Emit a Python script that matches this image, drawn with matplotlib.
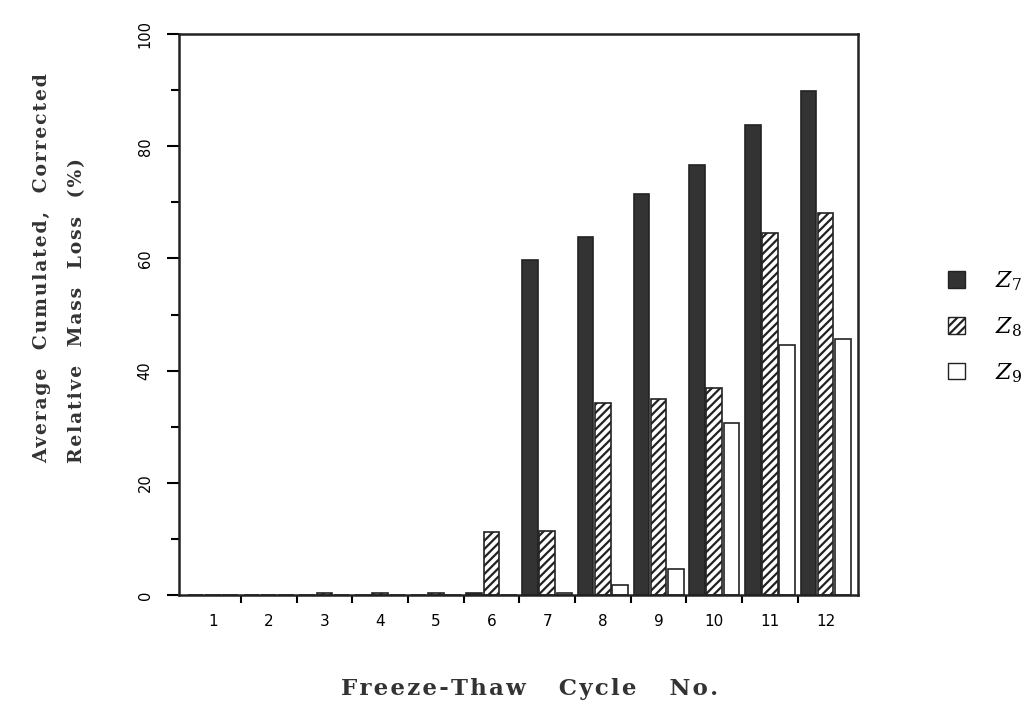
import matplotlib.pyplot as plt
import numpy as np
from matplotlib.patches import Patch
from matplotlib.ticker import MultipleLocator, FixedLocator

cycles = np.arange(1, 13)
z7 = [0, 0, 0, 0, 0, 0.3, 59.7, 63.8, 71.5, 76.6, 83.8, 89.8]
z8 = [0, 0, 0.3, 0.3, 0.3, 11.2, 11.4, 34.2, 35.0, 36.9, 64.5, 68.1]
z9 = [0, 0, 0, 0, 0, 0, 0.3, 1.8, 4.6, 30.6, 44.6, 45.6]
labels = ['$Z_7$', '$Z_8$', '$Z_9$']


def spaced(s, gap='\u200a'):
    # letter-spacing like the typeset original
    return gap.join(s)


plt.rcParams['hatch.linewidth'] = 1.6
plt.rcParams['mathtext.fontset'] = 'dejavuserif'
fig = plt.figure(figsize=(10.31, 7.16), dpi=100)
ax = fig.add_axes([0.1736, 0.169, 0.6586, 0.7835])

w = 0.28
ax.bar(cycles - 0.31, z7, w, color='#333333', edgecolor='#222222', linewidth=1.2)
ax.bar(cycles, z8, w, color='white', edgecolor='#222222', hatch='////', linewidth=1.2)
ax.bar(cycles + 0.31, z9, w, color='white', edgecolor='#222222', linewidth=1.2)

ax.set_xlim(0.39, 12.58)
ax.set_ylim(0, 100)
ax.yaxis.set_major_locator(MultipleLocator(20))
ax.yaxis.set_minor_locator(MultipleLocator(10))
ax.set_xticks(cycles)
ax.xaxis.set_minor_locator(FixedLocator(np.arange(1.5, 12, 1)))
ax.tick_params(axis='x', which='major', length=0, labelsize=11, pad=14)
ax.tick_params(axis='x', which='minor', length=6, width=1.5, direction='out')
ax.tick_params(axis='y', which='major', length=9, width=1.5, direction='out', labelsize=10.5, pad=10)
ax.tick_params(axis='y', which='minor', length=6, width=1.5, direction='out')
for t in ax.get_yticklabels():
    t.set_rotation(90)
    t.set_va('center')
for s in ax.spines.values():
    s.set_linewidth(1.8)
    s.set_color('#222222')

serif = {'family': 'DejaVu Serif', 'weight': 'bold', 'color': '#333333'}
fig.text(530 / 1031, 0.022, spaced('Freeze-Thaw   Cycle   No.'), ha='center', va='bottom',
         fontsize=16.5, **serif)
fig.text(42 / 1031, 1 - 463 / 716, spaced('Average  Cumulated,  Corrected'),
         rotation=90, ha='center', va='bottom', fontsize=13.5, **serif)
fig.text(77 / 1031, 1 - 463 / 716, spaced('Relative  Mass  Loss  (%)'),
         rotation=90, ha='center', va='bottom', fontsize=13.5, **serif)

handles = [Patch(facecolor='#333333', edgecolor='#222222'),
           Patch(facecolor='white', edgecolor='#222222', hatch='////'),
           Patch(facecolor='white', edgecolor='#222222')]
fig.legend(handles, labels, loc='center left', bbox_to_anchor=(948 / 1031, 1 - 327 / 716),
           frameon=False, borderpad=0, borderaxespad=0,
           fontsize=16, labelspacing=1.0, handlelength=0.75, handleheight=0.75, handletextpad=1.35)

plt.savefig('out.png')
